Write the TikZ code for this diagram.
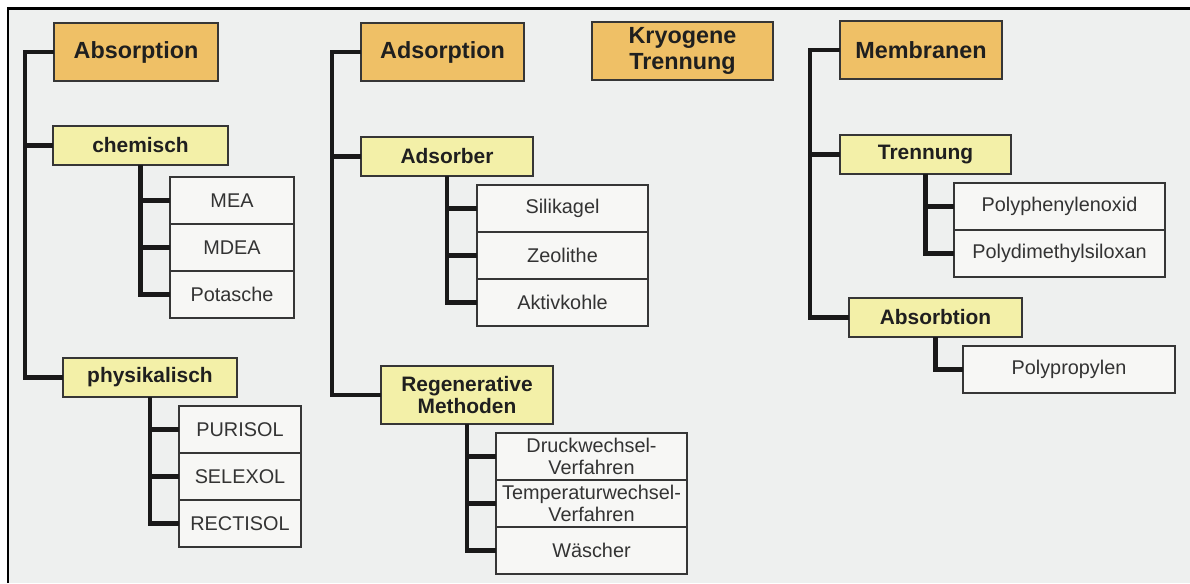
\documentclass[tikz,border=0pt]{standalone}
\usepackage{fontspec}
\setmainfont{Liberation Sans}
\usetikzlibrary{positioning}

% one unit = one pixel of the sheet
\newdimen\pxu \pxu=0.02cm

\definecolor{hauptfarbe}{HTML}{EFC066}
\definecolor{nebenfarbe}{HTML}{F3F0A8}
\definecolor{stofffarbe}{HTML}{F7F7F5}
\definecolor{papier}{HTML}{EEF0EF}
\definecolor{rand}{HTML}{363636}

\tikzset{
  haupt/.style={draw=rand, line width=0.9pt, fill=hauptfarbe, anchor=north west,
    inner sep=0pt, outer sep=0pt, align=center, text=black!88,
    minimum height=58*\pxu, font=\fontsize{13.3}{15}\selectfont\bfseries},
  neben/.style={draw=rand, line width=0.9pt, fill=nebenfarbe, anchor=north west,
    inner sep=0pt, outer sep=0pt, align=center, text=black!88,
    minimum height=39*\pxu, font=\fontsize{11.9}{12.4}\selectfont\bfseries},
  stoff/.style={draw=rand, line width=0.8pt, fill=stofffarbe, anchor=north west,
    inner sep=0pt, outer sep=0pt, align=center, text=black!80,
    minimum height=47*\pxu, font=\fontsize{11.3}{12.3}\selectfont},
  ast/.style={line width=2.3pt, black!90},
}

\begin{document}
\begin{tikzpicture}[x=0.02cm, y=-0.02cm]
  \useasboundingbox (0,0) rectangle (1190,583);
  \fill[papier] (8,8) rectangle (1190,583);
  \draw[line width=1.7pt] (8,583) -- (8,8) -- (1190,8);

  % Absorption
  \node[haupt, minimum width=164*\pxu] (absorp) at (54,23) {Absorption};
  \node[neben, minimum width=175*\pxu] (chem) at (53,126) {chemisch};
  \node[neben, minimum width=174*\pxu] (phys) at (63,358) {physikalisch};
  \node[stoff, minimum width=124*\pxu] (mea) at (170,177) {MEA};
  \node[stoff, minimum width=124*\pxu, below=0pt of mea] (mdea) {MDEA};
  \node[stoff, minimum width=124*\pxu, below=0pt of mdea] (pot) {Potasche};
  \node[stoff, minimum width=122*\pxu] (puri) at (179,406) {PURISOL};
  \node[stoff, minimum width=122*\pxu, below=0pt of puri] (selex) {SELEXOL};
  \node[stoff, minimum width=122*\pxu, below=0pt of selex] (recti) {RECTISOL};

  \coordinate (tA) at (25,52);
  \draw[ast] (absorp.west) -- (tA) |- (phys.west);
  \draw[ast] (tA |- chem.west) -- (chem.west);
  \draw[ast] (chem.south) |- (pot.west);
  \foreach \s in {mea,mdea}
    \draw[ast] (chem.south |- \s.west) -- (\s.west);
  \draw[ast] (phys.south) |- (recti.west);
  \foreach \s in {puri,selex}
    \draw[ast] (phys.south |- \s.west) -- (\s.west);

  % Adsorption
  \node[haupt, minimum width=163*\pxu] (adsorp) at (361,23) {Adsorption};
  \node[neben, minimum width=172*\pxu] (adsor) at (361,137) {Adsorber};
  \node[neben, minimum width=172*\pxu, minimum height=58*\pxu] (regen) at (381,366)
    {Regenerative\\Methoden};
  \node[stoff, minimum width=171*\pxu] (sili) at (477,185) {Silikagel};
  \node[stoff, minimum width=171*\pxu, below=0pt of sili] (zeol) {Zeolithe};
  \node[stoff, minimum width=171*\pxu, below=0pt of zeol] (akohle) {Aktivkohle};
  \node[stoff, minimum width=191*\pxu] (druck) at (496,433) {Druckwechsel-\\Verfahren};
  \node[stoff, minimum width=191*\pxu, below=0pt of druck] (temp)
    {Temperaturwechsel-\\Verfahren};
  \node[stoff, minimum width=191*\pxu, below=0pt of temp] (wasch) {Wäscher};

  \coordinate (tB) at (332,52);
  \draw[ast] (adsorp.west) -- (tB) |- (regen.west);
  \draw[ast] (tB |- adsor.west) -- (adsor.west);
  \draw[ast] (adsor.south) |- (akohle.west);
  \foreach \s in {sili,zeol}
    \draw[ast] (adsor.south |- \s.west) -- (\s.west);
  \draw[ast] (regen.south) |- (wasch.west);
  \foreach \s in {druck,temp}
    \draw[ast] (regen.south |- \s.west) -- (\s.west);

  % Kryogene Trennung
  \node[haupt, minimum width=181*\pxu] (kryo) at (592,22) {Kryogene\\Trennung};

  % Membranen
  \node[haupt, minimum width=162*\pxu] (membr) at (840,21) {Membranen};
  \node[neben, minimum width=171*\pxu] (trenn) at (840,135) {Trennung};
  \node[neben, minimum width=173*\pxu] (absorb) at (849,298) {Absorbtion};
  \node[stoff, minimum width=211*\pxu] (ppo) at (954,183) {Polyphenylenoxid};
  \node[stoff, minimum width=211*\pxu, below=0pt of ppo] (pdms) {Polydimethylsiloxan};
  \node[stoff, minimum width=212*\pxu] (pp) at (963,346) {Polypropylen};

  \coordinate (tC) at (810,50);
  \draw[ast] (membr.west) -- (tC) |- (absorb.west);
  \draw[ast] (tC |- trenn.west) -- (trenn.west);
  \draw[ast] (trenn.south) |- (pdms.west);
  \draw[ast] (trenn.south |- ppo.west) -- (ppo.west);
  \draw[ast] (absorb.south) |- (pp.west);
\end{tikzpicture}
\end{document}
